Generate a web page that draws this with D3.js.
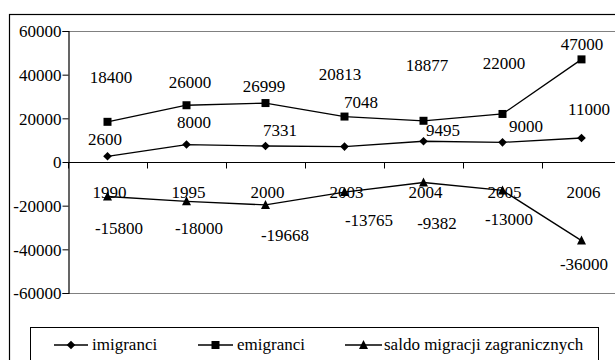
<!DOCTYPE html>
<html><head><meta charset="utf-8">
<script src="https://cdn.jsdelivr.net/npm/d3@7"></script>
<style>body{margin:0;background:#fff;}svg{display:block;}</style>
</head><body>
<svg id="c" width="615" height="360"></svg>
<script>
const categories = ["1990","1995","2000","2003","2004","2005","2006"];
const imigranci = [2600, 8000, 7331, 7048, 9495, 9000, 11000];
const emigranci = [18400, 26000, 26999, 20813, 18877, 22000, 47000];
const saldo = [-15800, -18000, -19668, -13765, -9382, -13000, -36000];
const yTicks = [60000, 40000, 20000, 0, -20000, -40000, -60000];
const seriesNames = ["imigranci", "emigranci", "saldo migracji zagranicznych"];

// label placement offsets (px) as positioned in the original chart
const imiOff = [[-2.5,-17],[7.5,-22.5],[14.5,-16],[16.5,-44.6],[19.5,-11],[23.5,-16],[7.5,-29]];
const emiOff = [[3.5,-45],[3.5,-23],[-1.5,-17],[-4.5,-43],[3.5,-56],[1.5,-51],[0.5,-15]];
const salOff = [[11.5,31.5],[12.5,26.7],[19.5,30],[24.5,28],[13.5,40.5],[6.5,28.6],[2.5,23.4]];

const FONT = "'Times New Roman', 'Liberation Serif', Tinos, serif";
const FS = 17;

function draw() {
  const svg = d3.select("#c");
  svg.selectAll("*").remove();
  const x = d3.scaleBand().domain(categories).range([68, 621]).padding(0);
  const y = d3.scaleLinear().domain([-60000, 60000]).range([293, 31]);
  const cx = c => x(c) + x.bandwidth() / 2;
  const txt = sel => sel.style("font-family", FONT).style("font-size", FS + "px").attr("fill", "#000");

  svg.append("rect").attr("x", 9.5).attr("y", 14.5).attr("width", 640).attr("height", 400)
    .attr("fill", "none").attr("stroke", "#000").attr("stroke-width", 1.2);

  [60000, -60000].forEach(v => {
    svg.append("line").attr("x1", 68).attr("x2", 640).attr("y1", Math.round(y(v)) + 0.5).attr("y2", Math.round(y(v)) + 0.5)
      .attr("stroke", "#808080").attr("stroke-width", 1);
  });

  const yAxis = d3.axisLeft(y).tickValues(yTicks).tickSize(6).tickPadding(1).tickFormat(d => String(d));
  const ga = svg.append("g").attr("transform", "translate(68.5,0)").call(yAxis);
  ga.attr("font-family", null).attr("font-size", null);
  ga.select(".domain").attr("stroke", "#000").attr("stroke-width", 1.2);
  ga.selectAll(".tick line").attr("stroke", "#000");
  ga.selectAll(".tick text").call(txt).attr("dy", "0.35em");

  const y0 = Math.round(y(0)) + 0.5;
  svg.append("line").attr("x1", 68).attr("x2", 640).attr("y1", y0).attr("y2", y0).attr("stroke", "#000").attr("stroke-width", 1.2);
  const bounds = categories.map(c => x(c)).concat([x(categories[categories.length - 1]) + x.bandwidth()]);
  svg.selectAll(".xt").data(bounds).enter().append("line")
    .attr("x1", d => Math.round(d) + 0.5).attr("x2", d => Math.round(d) + 0.5)
    .attr("y1", y0).attr("y2", y0 + 6).attr("stroke", "#000");
  svg.selectAll(".xl").data(categories).enter().append("text")
    .attr("x", d => cx(d) + 2).attr("y", 192).attr("dy", "0.35em")
    .attr("text-anchor", "middle").call(txt).text(d => d);

  function marker(sel, type) {
    if (type === 0) sel.append("path").attr("d", "M0,-4.3L4.3,0L0,4.3L-4.3,0Z");
    else if (type === 1) sel.append("path").attr("d", "M-4,-4H4V4H-4Z");
    else sel.append("path").attr("d", "M0,-5L4.5,4L-4.5,4Z");
  }

  const series = [imigranci, emigranci, saldo];
  const offs = [imiOff, emiOff, salOff];
  const line = d3.line().x((d, i) => cx(categories[i])).y(d => y(d));
  series.forEach((vals, s) => {
    svg.append("path").datum(vals).attr("d", line).attr("fill", "none").attr("stroke", "#000").attr("stroke-width", 1.3);
    vals.forEach((v, i) => {
      const g = svg.append("g").attr("transform", `translate(${cx(categories[i])},${y(v)})`).attr("fill", "#000");
      marker(g, s);
    });
    vals.forEach((v, i) => {
      svg.append("text").attr("x", cx(categories[i]) + offs[s][i][0]).attr("y", y(v) + offs[s][i][1])
        .attr("dy", "0.35em").attr("text-anchor", "middle").call(txt).text(String(v));
    });
  });

  svg.append("rect").attr("x", 30.5).attr("y", 327.5).attr("width", 568).attr("height", 60)
    .attr("fill", "#fff").attr("stroke", "#000").attr("stroke-width", 1);
  const legX = [[54, 88, 92], [198, 233, 237], [345, 382, 384]];
  const ly = 345;
  seriesNames.forEach((n, s) => {
    svg.append("line").attr("x1", legX[s][0]).attr("x2", legX[s][1]).attr("y1", ly).attr("y2", ly).attr("stroke", "#000").attr("stroke-width", 1.3);
    const g = svg.append("g").attr("transform", `translate(${(legX[s][0] + legX[s][1]) / 2},${ly})`).attr("fill", "#000");
    marker(g, s);
    svg.append("text").attr("x", legX[s][2]).attr("y", ly).attr("dy", "0.3em").call(txt).text(n);
  });
}

draw();
</script>
</body></html>
